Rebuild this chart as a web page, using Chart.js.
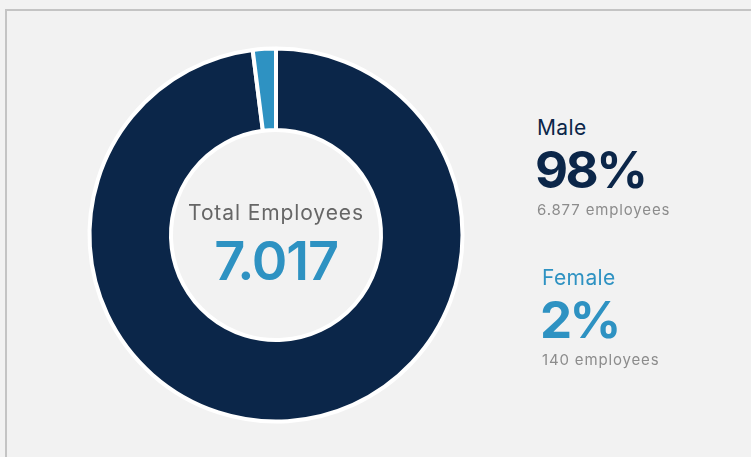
<!DOCTYPE html>
<html>
<head>
<meta charset="utf-8">
<script src="https://cdn.jsdelivr.net/npm/chart.js@4.4.0/dist/chart.umd.min.js"></script>
<style>
    body { margin: 0; width: 751px; height: 457px; overflow: hidden; background: #f2f2f2; font-family: 'Inter', sans-serif; }
    #frame { position: absolute; left: 5px; top: 9px; width: 800px; height: 500px; border-left: 2px solid #c4c4c4; border-top: 2px solid #c4c4c4; }
    #genderChart { position: absolute; left: 76px; top: 35px; }
    .txt { position: absolute; white-space: nowrap; line-height: 1; }
    #totalLabel { left: 0; width: 552px; text-align: center; top: 202px; font-size: 21px; letter-spacing: 0.9px; color: #666666; }
    #totalValue { left: 0; width: 552px; text-align: center; top: 234px; font-size: 54px; letter-spacing: -1.2px; font-weight: 600; color: #2e92c2; }
    .name { font-size: 21px; letter-spacing: 0.4px; }
    .pct { font-size: 51px; font-weight: 700; letter-spacing: -2.5px; }
    .count { font-size: 15px; letter-spacing: 0.85px; color: #8c8c8c; }
</style>
</head>
<body>
<div id="frame"></div>
<canvas id="genderChart" width="400" height="400"></canvas>
<div class="txt" id="totalLabel"></div>
<div class="txt" id="totalValue"></div>
<div id="legendBox"></div>

<script>
const genderLabels = ['Male', 'Female'];
const employeeCounts = [6877, 140];
const genderColors = ['#0b2649', '#2e92c2'];
const centerTitle = 'Total Employees';

// position of each legend block (left, top of name line)
const legendLeft = [537, 542];
const legendTop = [117, 267];

function FormatThousands(value) {
    return String(value).replace(/\B(?=(\d{3})+(?!\d))/g, '.');
}

function LoadGenderChart(chartId) {
    const context = document.getElementById(chartId).getContext('2d');

    const chartData = {
        labels: genderLabels,
        datasets: [
            {
                data: employeeCounts,
                backgroundColor: genderColors,
                borderColor: '#ffffff',
                borderWidth: 4,
                hoverOffset: 0
            }
        ]
    };

    new Chart(context, {
        type: 'doughnut',
        data: chartData,
        options: {
            responsive: false,
            animation: false,
            radius: 186.5,
            cutout: 111.5,
            layout: { padding: 0 },
            plugins: {
                legend: { display: false },
                tooltip: { enabled: false }
            }
        }
    });
}

function LoadGenderText() {
    const total = employeeCounts.reduce((a, b) => a + b, 0);
    document.getElementById('totalLabel').textContent = centerTitle;
    document.getElementById('totalValue').textContent = FormatThousands(total);

    const box = document.getElementById('legendBox');
    genderLabels.forEach(function (label, i) {
        const pct = Math.round(employeeCounts[i] / total * 100);
        const left = legendLeft[i], top = legendTop[i];

        const name = document.createElement('div');
        name.className = 'txt name';
        name.style.left = left + 'px';
        name.style.top = top + 'px';
        name.style.color = genderColors[i];
        name.textContent = label;

        const big = document.createElement('div');
        big.className = 'txt pct';
        big.style.left = (left - 2) + 'px';
        big.style.top = (top + 27) + 'px';
        big.style.color = genderColors[i];
        big.textContent = pct + '%';

        const cnt = document.createElement('div');
        cnt.className = 'txt count';
        cnt.style.left = left + 'px';
        cnt.style.top = (top + 85) + 'px';
        cnt.textContent = FormatThousands(employeeCounts[i]) + ' employees';

        box.appendChild(name);
        box.appendChild(big);
        box.appendChild(cnt);
    });
}

LoadGenderChart('genderChart');
LoadGenderText();
</script>
</body>
</html>
